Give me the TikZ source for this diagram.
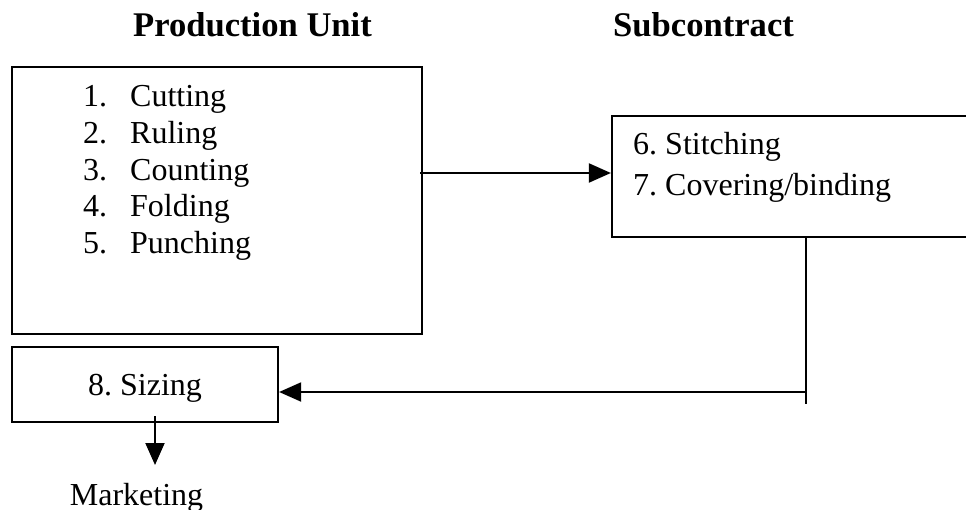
\documentclass[tikz,border=0pt]{standalone}
\usepackage{fontspec}
\setmainfont{Liberation Serif}
\usetikzlibrary{arrows.meta}
\frenchspacing
\begin{document}
\begin{tikzpicture}[x=1pt,y=-1pt,
  boxst/.style={draw,line width=2.2pt,inner sep=0pt,rectangle},
  body/.style={inner sep=0pt,anchor=base west,font=\fontsize{32}{36}\selectfont},
  title/.style={inner sep=0pt,anchor=base west,font=\fontsize{34.6}{40}\selectfont\bfseries},
  conn/.style={line width=2pt},
  arr/.style={conn,-{Triangle[length=22pt,width=19pt]}}]
\useasboundingbox (0,0) rectangle (966,510);
\clip (0,0) rectangle (966,510);
% titles
\node[title] (t1) at (133,37) {Production Unit};
\node[title] (t2) at (613,37) {Subcontract};
% boxes
\node[boxst,minimum width=410pt,minimum height=267pt] (b1) at (217,200.5) {};
\node[boxst,minimum width=388pt,minimum height=121pt] (b2) at (806,176.5) {};
\node[boxst,minimum width=266pt,minimum height=75pt] (b3) at (145,384.5) {};
% list in box 1
\node[body] (l1) at (83,107) {\makebox[47pt][l]{1.}Cutting};
\node[body] (l2) at (83,143.7) {\makebox[47pt][l]{2.}Ruling};
\node[body] (l3) at (83,180.3) {\makebox[47pt][l]{3.}Counting};
\node[body] (l4) at (83,217) {\makebox[47pt][l]{4.}Folding};
\node[body] (l5) at (83,253.7) {\makebox[47pt][l]{5.}Punching};
% box 2 text
\node[body] (s1) at (633,155) {6. Stitching};
\node[body] (s2) at (633,196) {7. Covering/binding};
% box 3 text
\node[body,anchor=base] (z) at (145,395) {8. Sizing};
% marketing
\node[body,anchor=base] (mk) at (136.5,505) {Marketing};
% connectors
\coordinate (r) at (806,404);
\coordinate (j) at (806,392);
\coordinate (m) at (155,465);
\draw[arr] ([xshift=-3pt]b1.east |- 0,173) -- (b2.west |- 0,173);
\draw[conn] ([yshift=2pt]b2.south) -- (r);
\draw[arr] (j) -- (b3.east |- j);
\draw[arr] ([yshift=7pt]b3.south -| m) -- (m);
\end{tikzpicture}
\end{document}
